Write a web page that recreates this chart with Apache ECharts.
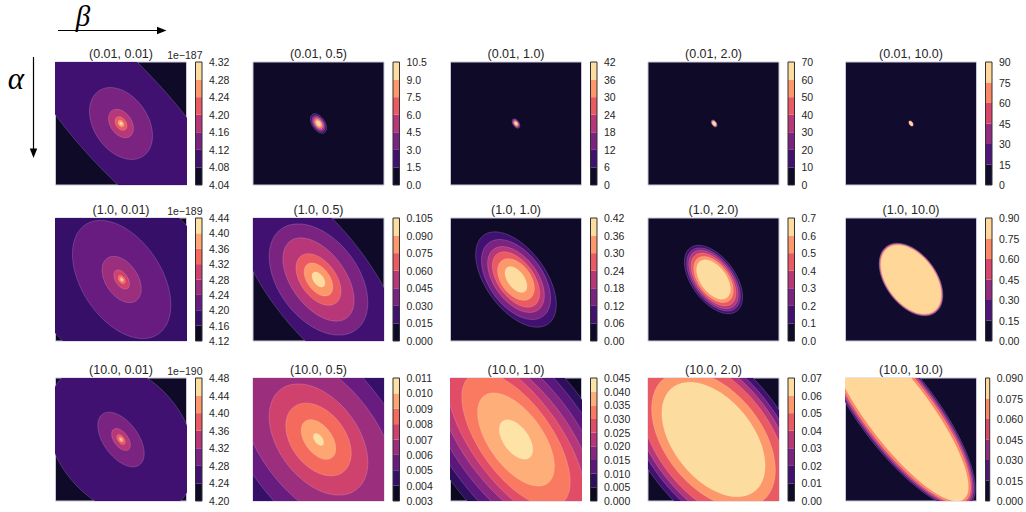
<!DOCTYPE html>
<html><head><meta charset="utf-8">
<script src="https://cdn.jsdelivr.net/npm/echarts@6/dist/echarts.min.js"></script>
<style>html,body{margin:0;padding:0;background:#fff}#c{width:1026px;height:512px}</style>
</head><body><div id="c"></div>
<script>
// ---- DATA ----
const alphaValues = ['0.01', '1.0', '10.0'];
const betaValues = ['0.01', '0.5', '1.0', '2.0', '10.0'];

// colorbar contour levels, one list per panel (row-major: alpha rows, beta columns)
const levelsRow1 = [
  [4.04, 4.08, 4.12, 4.16, 4.20, 4.24, 4.28, 4.32],
  [0.0, 1.5, 3.0, 4.5, 6.0, 7.5, 9.0, 10.5],
  [0, 6, 12, 18, 24, 30, 36, 42],
  [0, 10, 20, 30, 40, 50, 60, 70],
  [0, 15, 30, 45, 60, 75, 90]
];
const levelsRow2 = [
  [4.12, 4.16, 4.20, 4.24, 4.28, 4.32, 4.36, 4.40, 4.44],
  [0.000, 0.015, 0.030, 0.045, 0.060, 0.075, 0.090, 0.105],
  [0.00, 0.06, 0.12, 0.18, 0.24, 0.30, 0.36, 0.42],
  [0.0, 0.1, 0.2, 0.3, 0.4, 0.5, 0.6, 0.7],
  [0.00, 0.15, 0.30, 0.45, 0.60, 0.75, 0.90]
];
const levelsRow3 = [
  [4.20, 4.24, 4.28, 4.32, 4.36, 4.40, 4.44, 4.48],
  [0.003, 0.004, 0.005, 0.006, 0.007, 0.008, 0.009, 0.010, 0.011],
  [0.000, 0.005, 0.010, 0.015, 0.020, 0.025, 0.030, 0.035, 0.040, 0.045],
  [0.00, 0.01, 0.02, 0.03, 0.04, 0.05, 0.06, 0.07],
  [0.000, 0.015, 0.030, 0.045, 0.060, 0.075, 0.090]
];
const levelDecimals = [2, 1, 0, 0, 0, 2, 3, 2, 1, 2, 2, 3, 3, 2, 3];
const offsetTexts = ['1e\u2212187', '', '', '', '', '1e\u2212189', '', '', '', '', '1e\u2212190', '', '', '', ''];

// nested contour regions per panel: [band, centreX, centreY, semiMajor, semiMinor, angleDeg]
const contoursRow1 = [
  [[1, 0.05, 0.05, 2.6, 0.78, -50], [2, 0, 0, 0.63, 0.42, -60], [3, 0, 0, 0.25, 0.165, -60], [4, 0, 0, 0.12, 0.08, -60], [5, 0, 0, 0.06, 0.04, -60], [6, 0, 0, 0.028, 0.019, -60]],
  [[1, 0, 0, 0.175, 0.10, -60], [2, 0, 0, 0.14, 0.08, -60], [3, 0, 0, 0.115, 0.066, -60], [4, 0, 0, 0.095, 0.054, -60], [5, 0, 0, 0.073, 0.042, -60], [6, 0, 0, 0.049, 0.028, -60]],
  [[1, 0, 0, 0.085, 0.048, -60], [2, 0, 0, 0.072, 0.04, -60], [3, 0, 0, 0.06, 0.034, -60], [4, 0, 0, 0.05, 0.028, -60], [5, 0, 0, 0.04, 0.022, -60], [6, 0, 0, 0.028, 0.016, -60]],
  [[1, 0.01, 0, 0.065, 0.036, -60], [2, 0.01, 0, 0.058, 0.032, -60], [3, 0.01, 0, 0.053, 0.029, -60], [4, 0.01, 0, 0.048, 0.026, -60], [5, 0.01, 0, 0.043, 0.024, -60], [6, 0.01, 0, 0.037, 0.021, -60]],
  [[1, 0, 0, 0.05, 0.027, -60], [2, 0, 0, 0.047, 0.025, -60], [3, 0, 0, 0.045, 0.024, -60], [4, 0, 0, 0.043, 0.023, -60], [5, 0, 0, 0.04, 0.021, -60]]
];
const contoursRow2 = [
  [[1, 0, 0, 3.0, 1.33, -50], [2, 0.01, 0, 1.05, 0.62, -60], [3, 0.01, 0, 0.41, 0.25, -60], [4, 0.01, 0, 0.17, 0.095, -60], [5, 0.01, 0, 0.075, 0.045, -60], [6, 0.01, 0, 0.04, 0.025, -60], [7, 0.01, 0, 0.018, 0.012, -60]],
  [[1, 0, 0, 2.0, 0.79, -55], [2, 0, 0, 1.0, 0.62, -57], [3, 0, 0, 0.76, 0.42, -57], [4, 0, 0, 0.467, 0.275, -57], [5, 0, 0, 0.30, 0.175, -57], [6, 0, 0, 0.137, 0.078, -57]],
  [[1, 0, 0, 0.874, 0.465, -57], [2, 0, 0, 0.727, 0.415, -57], [3, 0, 0, 0.60, 0.338, -57], [4, 0, 0, 0.505, 0.278, -57], [5, 0, 0, 0.375, 0.229, -57], [6, 0, 0, 0.237, 0.128, -57]],
  [[1, 0, 0, 0.626, 0.34, -57], [2, 0, 0, 0.578, 0.31, -57], [3, 0, 0, 0.536, 0.285, -57], [4, 0, 0, 0.484, 0.26, -57], [5, 0, 0, 0.42, 0.235, -57], [6, 0, 0, 0.36, 0.2, -57]],
  [[1, 0, 0, 0.655, 0.395, -57], [2, 0, 0, 0.647, 0.389, -57], [3, 0, 0, 0.64, 0.384, -57], [4, 0, 0, 0.633, 0.379, -57], [5, 0, 0, 0.62, 0.37, -57]]
];
const contoursRow3 = [
  [[1, 0, 0, 1.36, 1.0, -55], [2, 0, 0, 0.5, 0.27, -57], [3, 0, 0, 0.2, 0.11, -57], [4, 0, 0, 0.09, 0.05, -57], [5, 0, 0, 0.045, 0.028, -57], [6, 0, 0, 0.02, 0.013, -57]],
  [[1, 0, 0, 3.5, 1.6, -52], [2, 0, 0, 2.4, 1.15, -55], [3, 0, 0, 1.6, 0.9, -55], [4, 0, 0, 1.0, 0.62, -57], [5, 0, 0, 0.65, 0.42, -57], [6, 0, 0, 0.36, 0.21, -57], [7, 0, 0, 0.11, 0.06, -57]],
  [[1, 0, 0, 2.6, 1.2, -55], [2, 0, 0, 2.3, 1.07, -55], [3, 0, 0, 2.0, 0.93, -55], [4, 0, 0, 1.75, 0.8, -55], [5, 0, 0, 1.6, 0.68, -56], [6, 0, 0, 1.25, 0.56, -57], [7, 0, 0, 0.86, 0.42, -57], [8, 0, 0, 0.36, 0.194, -57]],
  [[1, 0, 0, 2.0, 1.1, -55], [2, 0, 0, 1.85, 1.02, -55], [3, 0, 0, 1.7, 0.95, -55], [4, 0, 0, 1.5, 0.87, -55], [5, 0, 0, 1.25, 0.75, -55], [6, 0, 0, 1.05, 0.62, -55]],
  [[1, -0.2, 0.45, 1.87, 0.60, -55], [2, -0.2, 0.45, 1.84, 0.575, -55], [3, -0.2, 0.45, 1.81, 0.555, -55], [4, -0.2, 0.45, 1.78, 0.53, -55], [5, -0.2, 0.45, 1.74, 0.49, -55]]
];

// ---- LAYOUT / STYLE ----
const allLevels = levelsRow1.concat(levelsRow2, levelsRow3);
const allContours = contoursRow1.concat(contoursRow2, contoursRow3);
const colLeft = [55.5, 253, 450.5, 648, 845.5];
const rowTop = [62, 218, 378];
const PW = 131, PH = 123, CB_GAP = 140, CB_W = 6.5;
const FONT = "'Liberation Sans', Arial, sans-serif";
const TXT = '#262626';

const MAGMA = ['#000004', '#140e36', '#3b0f70', '#641a80', '#8c2981', '#b73779', '#de4968', '#f7705c', '#fe9f6d', '#fecf92', '#fcfdbf'];
function hex2rgb(h) { return [parseInt(h.substr(1, 2), 16), parseInt(h.substr(3, 2), 16), parseInt(h.substr(5, 2), 16)]; }
function magma(t) {
  t = Math.max(0, Math.min(1, t));
  const f = t * 10, i = Math.min(9, Math.floor(f)), r = f - i;
  const a = hex2rgb(MAGMA[i]), b = hex2rgb(MAGMA[i + 1]);
  return 'rgb(' + a.map((v, k) => Math.round(v + (b[k] - v) * r)).join(',') + ')';
}
function bandColor(i, n) { return magma((i + 0.5) / n); }

const grids = [], xAxes = [], yAxes = [], series = [], graphics = [];

for (let p = 0; p < 15; p++) {
  const row = Math.floor(p / 5), col = p % 5;
  const lv = allLevels[p], nb = lv.length - 1;
  const left = colLeft[col], top = rowTop[row];
  // contour panel
  grids.push({ left: left, top: top, width: PW, height: PH, show: true, borderColor: '#c9c6d6', borderWidth: 1, backgroundColor: bandColor(0, nb) });
  xAxes.push({ gridIndex: 2 * p, type: 'value', min: -1, max: 1, show: false });
  yAxes.push({ gridIndex: 2 * p, type: 'value', min: -1, max: 1, show: false });
  series.push({
    type: 'custom', xAxisIndex: 2 * p, yAxisIndex: 2 * p, clip: true, silent: true, animation: false,
    encode: { x: 1, y: 2 },
    data: allContours[p],
    renderItem: (function (n) {
      return function (params, api) {
        const band = api.value(0), cx = api.value(1), cy = api.value(2), a = api.value(3), b = api.value(4);
        const th = api.value(5) * Math.PI / 180;
        const pts = [];
        for (let k = 0; k < 140; k++) {
          const t = 2 * Math.PI * k / 140;
          const x = cx + a * Math.cos(t) * Math.cos(th) - b * Math.sin(t) * Math.sin(th);
          const y = cy + a * Math.cos(t) * Math.sin(th) + b * Math.sin(t) * Math.cos(th);
          pts.push(api.coord([x, y]));
        }
        return { type: 'polygon', shape: { points: pts }, style: { fill: bandColor(band, n), stroke: 'rgba(255,255,255,0.28)', lineWidth: 0.6 } };
      };
    })(nb)
  });
  // colorbar
  grids.push({ left: left + CB_GAP, top: top, width: CB_W, height: PH, show: true, borderColor: '#303030', borderWidth: 1, backgroundColor: 'transparent', z: 5 });
  xAxes.push({ gridIndex: 2 * p + 1, type: 'value', min: 0, max: 1, show: false });
  yAxes.push({
    gridIndex: 2 * p + 1, type: 'value', min: 0, max: nb, interval: 1, position: 'right',
    axisLine: { show: false }, axisTick: { show: false }, splitLine: { show: false },
    axisLabel: {
      show: true, margin: 7, fontSize: 10.5, color: TXT, fontFamily: FONT, showMinLabel: true, showMaxLabel: true,
      formatter: (function (L, d) { return function (v) { const i = Math.round(v); return L[i] === undefined ? '' : L[i].toFixed(d); }; })(lv, levelDecimals[p])
    }
  });
  series.push({
    type: 'custom', xAxisIndex: 2 * p + 1, yAxisIndex: 2 * p + 1, silent: true, animation: false,
    data: lv.slice(0, nb).map((v, i) => [i]),
    renderItem: (function (n) {
      return function (params, api) {
        const i = api.value(0);
        const p0 = api.coord([0, i]), p1 = api.coord([1, i + 1]);
        return { type: 'rect', shape: { x: p0[0], y: p1[1], width: p1[0] - p0[0], height: p0[1] - p1[1] }, style: { fill: bandColor(i, n) } };
      };
    })(nb)
  });
  // panel title
  graphics.push({ type: 'text', x: left + PW / 2, y: top - 8.5, style: { text: '(' + alphaValues[row] + ', ' + betaValues[col] + ')', font: '12.5px ' + FONT, fill: TXT, textAlign: 'center', textVerticalAlign: 'middle' } });
  if (offsetTexts[p]) {
    graphics.push({ type: 'text', x: left + CB_GAP + CB_W + 0.5, y: top - 7, style: { text: offsetTexts[p], font: '10.5px ' + FONT, fill: TXT, textAlign: 'right', textVerticalAlign: 'middle' } });
  }
}

// axis annotations (beta across, alpha down)
graphics.push({ type: 'text', x: 83, y: 16, style: { text: '\u03b2', font: 'italic 29px "Liberation Serif", "DejaVu Serif", serif', fill: '#000', textAlign: 'center', textVerticalAlign: 'middle' } });
graphics.push({ type: 'line', shape: { x1: 58, y1: 30.5, x2: 160, y2: 30.5 }, style: { stroke: '#000', lineWidth: 1.2 } });
graphics.push({ type: 'polygon', shape: { points: [[157, 26.8], [166.5, 30.5], [157, 34.2]] }, style: { fill: '#000' } });
graphics.push({ type: 'text', x: 16, y: 78, style: { text: '\u03b1', font: 'italic 31px "Liberation Serif", "DejaVu Serif", serif', fill: '#000', textAlign: 'center', textVerticalAlign: 'middle' } });
graphics.push({ type: 'line', shape: { x1: 33.5, y1: 57, x2: 33.5, y2: 151 }, style: { stroke: '#000', lineWidth: 1.2 } });
graphics.push({ type: 'polygon', shape: { points: [[29.8, 148.5], [33.5, 158], [37.2, 148.5]] }, style: { fill: '#000' } });

const chart = echarts.init(document.getElementById('c'), null, { renderer: 'svg', width: 1026, height: 512 });
chart.setOption({ animation: false, backgroundColor: '#fff', grid: grids, xAxis: xAxes, yAxis: yAxes, series: series, graphic: graphics });
</script>
</body></html>
